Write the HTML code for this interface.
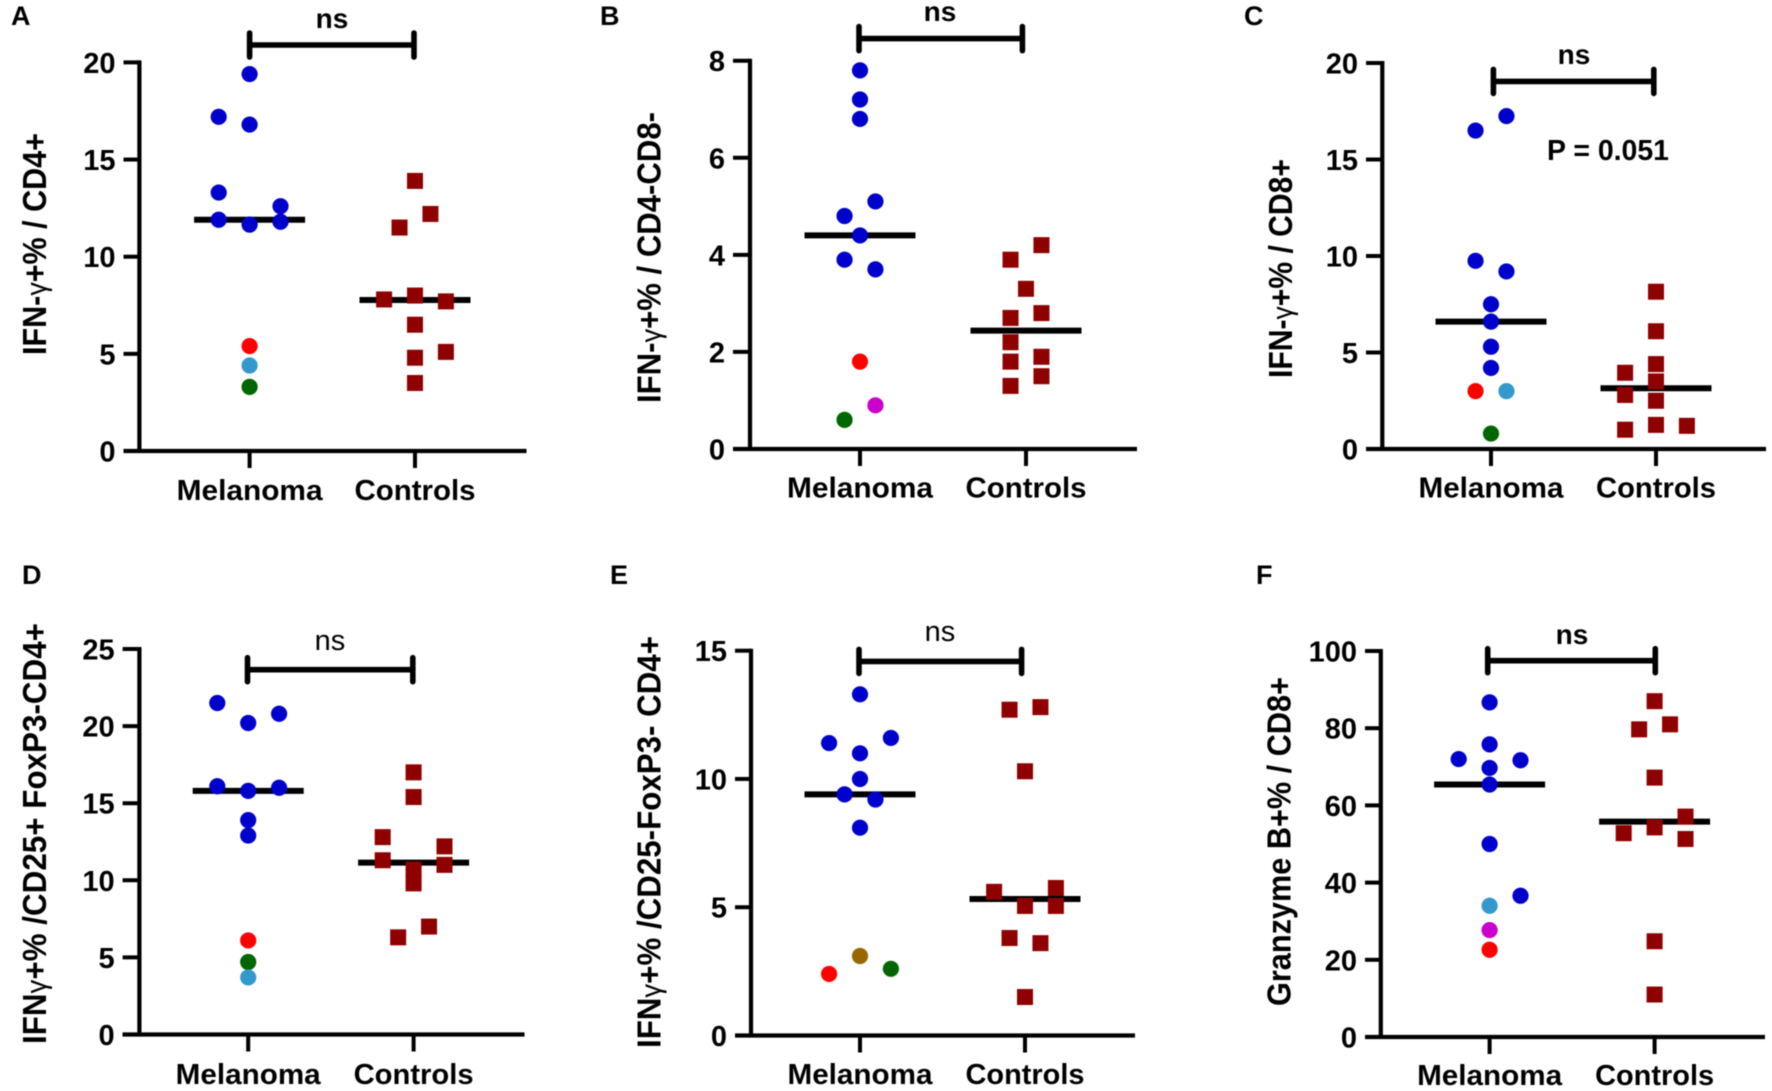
<!DOCTYPE html>
<html>
<head>
<meta charset="utf-8">
<style>
html,body{margin:0;padding:0;background:#fff}
svg{display:block;filter:blur(0.4px)}
text{font-family:"Liberation Sans",Arial,sans-serif;fill:#000}
.b{font-weight:700}
.t{font-weight:700;font-size:33px}
.g{font-weight:400;font-size:29px}
.r{font-weight:400}
</style>
</head>
<body>
<svg id="figure" width="1772" height="1091" viewBox="0 0 1772 1091" xmlns="http://www.w3.org/2000/svg">
<rect width="1772" height="1091" fill="#fff"/>

<g id="panel-a">
<text class="b" x="11" y="25" font-size="27">A</text>
<text class="t" transform="translate(46,355) rotate(-90)" textLength="222" lengthAdjust="spacingAndGlyphs">IFN-<tspan class="g">γ</tspan>+% / CD4+</text>
<text class="b" x="332" y="28" font-size="28" text-anchor="middle">ns</text>
</g>

<g id="panel-b">
<text class="b" x="600" y="25" font-size="27">B</text>
<text class="t" transform="translate(660.6,403) rotate(-90)" textLength="291" lengthAdjust="spacingAndGlyphs">IFN-<tspan class="g">γ</tspan>+% / CD4-CD8-</text>
<text class="b" x="940" y="21" font-size="28" text-anchor="middle">ns</text>
</g>

<g id="panel-c">
<text class="b" x="1244" y="25" font-size="27">C</text>
<text class="t" transform="translate(1292,378) rotate(-90)" textLength="219" lengthAdjust="spacingAndGlyphs">IFN-<tspan class="g">γ</tspan>+% / CD8+</text>
<text class="b" x="1574" y="64" font-size="28" text-anchor="middle">ns</text>
<text class="b" x="1547" y="160" font-size="28.5" textLength="122" lengthAdjust="spacingAndGlyphs">P = 0.051</text>
</g>

<g id="panel-d">
<text class="b" x="22" y="584" font-size="27">D</text>
<text class="t" transform="translate(46,1044) rotate(-90)" textLength="421" lengthAdjust="spacingAndGlyphs">IFN<tspan class="g">γ</tspan>+% /CD25+ FoxP3-CD4+</text>
<text class="r" x="330" y="650" font-size="29" text-anchor="middle">ns</text>
</g>

<g id="panel-e">
<text class="b" x="610" y="584" font-size="27">E</text>
<text class="t" transform="translate(660.6,1048) rotate(-90)" textLength="412" lengthAdjust="spacingAndGlyphs">IFN<tspan class="g">γ</tspan>+% /CD25-FoxP3- CD4+</text>
<text class="r" x="940" y="641" font-size="29" text-anchor="middle">ns</text>
</g>

<g id="panel-f">
<text class="b" x="1256" y="584" font-size="27">F</text>
<text class="t" transform="translate(1290.6,1006) rotate(-90)" textLength="329" lengthAdjust="spacingAndGlyphs">Granzyme B+% / CD8+</text>
<text class="b" x="1572" y="644" font-size="28" text-anchor="middle">ns</text>
</g>
</svg>

<script>
// Categories shared by all panels
const categories = ['Melanoma', 'Controls'];

// Y-axis tick labels
const aTicks = [0, 5, 10, 15, 20];
const bTicks = [0, 2, 4, 6, 8];
const cTicks = [0, 5, 10, 15, 20];
const dTicks = [0, 5, 10, 15, 20, 25];
const eTicks = [0, 5, 10, 15];
const fTicks = [0, 20, 40, 60, 80, 100];

// Panel A values
const aMelanoma = [19.4, 17.2, 16.8, 13.3, 12.6, 11.9, 11.65, 11.8, 5.4, 4.4, 3.3];
const aMelanomaSwarm = [0, -2, 0, -2, 2, -2, 0, 2, 0, 0, 0];
const aMelanomaPatient = ['', '', '', '', '', '', '', '', 'P1', 'P2', 'P3'];
const aControls = [13.9, 12.2, 11.5, 7.8, 8.0, 7.7, 6.5, 5.1, 4.8, 3.5];
const aControlsSwarm = [0, 1, -1, -2, 0, 2, 0, 2, 0, 0];
const aMedians = [11.9, 7.77];

// Panel B values
const bMelanoma = [7.8, 7.2, 6.8, 5.1, 4.8, 4.4, 3.9, 3.7, 1.8, 0.9, 0.6];
const bMelanomaSwarm = [0, 0, 0, 1, -1, 0, -1, 1, 0, 1, -1];
const bMelanomaPatient = ['', '', '', '', '', '', '', '', 'P1', 'P4', 'P3'];
const bControls = [4.2, 3.9, 3.3, 2.8, 2.7, 2.2, 1.9, 1.8, 1.5, 1.3];
const bControlsSwarm = [1, -1, 0, 1, -1, -1, 1, -1, 1, -1];
const bMedians = [4.4, 2.44];

// Panel C values
const cMelanoma = [17.25, 16.5, 9.75, 9.2, 7.5, 6.6, 5.3, 4.2, 3.0, 3.0, 0.8];
const cMelanomaSwarm = [1, -1, -1, 1, 0, 0, 0, 0, -1, 1, 0];
const cMelanomaPatient = ['', '', '', '', '', '', '', '', 'P1', 'P2', 'P3'];
const cControls = [8.15, 6.1, 4.4, 3.95, 3.5, 2.8, 2.5, 1.25, 1.2, 1.0];
const cControlsSwarm = [0, 0, 0, -2, 0, -2, 0, 0, 2, -2];
const cMedians = [6.6, 3.15];

// Panel D values
const dMelanoma = [21.5, 20.8, 20.2, 16.1, 16.0, 15.8, 13.9, 12.9, 6.1, 4.7, 3.7];
const dMelanomaSwarm = [-2, 2, 0, -2, 2, 0, 0, 0, 0, 0, 0];
const dMelanomaPatient = ['', '', '', '', '', '', '', '', 'P1', 'P3', 'P2'];
const dControls = [17.0, 15.4, 12.8, 12.2, 11.3, 11.0, 10.7, 9.8, 7.0, 6.3];
const dControlsSwarm = [0, 0, -2, 2, -2, 2, 0, 0, 1, -1];
const dMedians = [15.8, 11.15];

// Panel E values
const eMelanoma = [13.3, 11.6, 11.4, 11.0, 10.0, 9.4, 9.2, 8.1, 3.1, 2.6, 2.4];
const eMelanomaSwarm = [0, 2, -2, 0, 0, -1, 1, 0, 0, 2, -2];
const eMelanomaPatient = ['', '', '', '', '', '', '', '', 'P5', 'P3', 'P1'];
const eControls = [12.8, 12.7, 10.3, 5.75, 5.6, 5.05, 5.05, 3.8, 3.6, 1.5];
const eControlsSwarm = [1, -1, 0, 2, -2, 0, 2, -1, 1, 0];
const eMedians = [9.4, 5.32];

// Panel F values
const fMelanoma = [86.7, 75.8, 72.0, 71.7, 69.7, 65.4, 50.0, 36.6, 34.0, 27.7, 22.6];
const fMelanomaSwarm = [0, 0, -2, 2, 0, 0, 0, 2, 0, 0, 0];
const fMelanomaPatient = ['', '', '', '', '', '', '', '', 'P2', 'P4', 'P1'];
const fControls = [87.0, 81.0, 79.7, 67.2, 57.1, 54.3, 52.8, 51.3, 24.8, 11.0];
const fControlsSwarm = [0, 1, -1, 0, 2, 0, -2, 2, 0, 0];
const fMedians = [65.4, 55.8];

// Panel frames (geometry only)
const frames = [
  {id:'a', ticks:aTicks, mel:aMelanoma, melS:aMelanomaSwarm, melP:aMelanomaPatient, con:aControls, conS:aControlsSwarm, med:aMedians,
   ax:139.4, y0:451, yTop:62.4, left:123.5, right:526.5, cx:[249.6,415], br:[249.6,414,45], labelY:500, melW:146, conW:121},
  {id:'b', ticks:bTicks, mel:bMelanoma, melS:bMelanomaSwarm, melP:bMelanomaPatient, con:bControls, conS:bControlsSwarm, med:bMedians,
   ax:750, y0:449, yTop:60.7, left:733, right:1137, cx:[860,1026], br:[859,1022.4,38.6], labelY:497.6, melW:146, conW:121},
  {id:'c', ticks:cTicks, mel:cMelanoma, melS:cMelanomaSwarm, melP:cMelanomaPatient, con:cControls, conS:cControlsSwarm, med:cMedians,
   ax:1382.3, y0:449, yTop:63, left:1366, right:1766, cx:[1491,1656], br:[1493.4,1653.8,81.4], labelY:497.6, melW:145, conW:120},
  {id:'d', ticks:dTicks, mel:dMelanoma, melS:dMelanomaSwarm, melP:dMelanomaPatient, con:dControls, conS:dControlsSwarm, med:dMedians,
   ax:139.4, y0:1034.5, yTop:649, left:122.6, right:524.5, cx:[248.2,413.6], br:[247.5,412.8,669.7], labelY:1084, melW:145, conW:120},
  {id:'e', ticks:eTicks, mel:eMelanoma, melS:eMelanomaSwarm, melP:eMelanomaPatient, con:eControls, conS:eControlsSwarm, med:eMedians,
   ax:751, y0:1035.5, yTop:650.7, left:735, right:1135, cx:[860,1025], br:[859,1021.6,661.4], labelY:1084, melW:145, conW:119},
  {id:'f', ticks:fTicks, mel:fMelanoma, melS:fMelanomaSwarm, melP:fMelanomaPatient, con:fControls, conS:fControlsSwarm, med:fMedians,
   ax:1380.8, y0:1037, yTop:651, left:1365, right:1765, cx:[1489.6,1654.6], br:[1487.7,1655.3,660.7], labelY:1085, melW:145, conW:119}
];

const patientColor = {'':'#0000cc', P1:'#ff0000', P2:'#3399cc', P3:'#006600', P4:'#cc00cc', P5:'#996600'};
const controlColor = '#8f0000';
const SVGNS = 'http://www.w3.org/2000/svg';
const swarmStep = 15.45;
const medianHalf = 55.5;
const markerR = 8.1;
const squareSide = 16;

function make(tag, attrs, parent) {
  const el = document.createElementNS(SVGNS, tag);
  for (const k in attrs) el.setAttribute(k, attrs[k]);
  parent.appendChild(el);
  return el;
}

function drawPanel(f) {
  const g = document.getElementById('panel-' + f.id);
  const top = f.ticks[f.ticks.length - 1];
  const yScale = v => f.y0 - (v / top) * (f.y0 - f.yTop);
  const xScale = (cat, swarm) => f.cx[cat] + swarm * swarmStep;
  let el;

  // axes
  el = make('line', {x1:f.ax, x2:f.ax, y1:f.yTop - 2, y2:f.y0 + 2, stroke:'#000', 'stroke-width':4.2}, g);
  
  
  el = make('line', {x1:f.left, x2:f.right, y1:f.y0, y2:f.y0, stroke:'#000', 'stroke-width':4.2}, g);
  
  

  // y ticks
  f.ticks.forEach(t => {
    const y = yScale(t);
    let m = make('line', {x1:f.left, x2:f.ax, y1:y, y2:y, stroke:'#000', 'stroke-width':4}, g);
    
    
    let l = make('text', {x:f.left - 8, y:y + 10.5, 'font-size':29, 'font-weight':700, 'text-anchor':'end'}, g);
    
    
    l.textContent = t;
  });

  // x ticks and labels
  categories.forEach((c, i) => {
    let m = make('line', {x1:f.cx[i], x2:f.cx[i], y1:f.y0, y2:f.y0 + 17, stroke:'#000', 'stroke-width':4}, g);
    
    
    let l = make('text', {x:f.cx[i], y:f.labelY, 'font-size':29, 'font-weight':700, 'text-anchor':'middle', textLength:i === 0 ? f.melW : f.conW, lengthAdjust:'spacingAndGlyphs'}, g);
    
    
    l.textContent = c;
  });

  // significance bracket
  const [bx1, bx2, by] = f.br;
  el = make('line', {x1:bx1, x2:bx2, y1:by, y2:by, stroke:'#000', 'stroke-width':5.6}, g);
  
  
  [bx1, bx2].forEach(bx => {
    let cap = make('line', {x1:bx, x2:bx, y1:by - 12, y2:by + 12, stroke:'#000', 'stroke-width':5.6, 'stroke-linecap':'round'}, g);
    
    
  });

  // median lines
  f.med.forEach((v, i) => {
    let m = make('line', {x1:f.cx[i] - medianHalf, x2:f.cx[i] + medianHalf, y1:yScale(v), y2:yScale(v), stroke:'#000', 'stroke-width':6}, g);
    
    
  });

  // melanoma points
  f.mel.forEach((v, i) => {
    let p = make('circle', {cx:xScale(0, f.melS[i]), cy:yScale(v), r:markerR, fill:patientColor[f.melP[i]]}, g);
    
    
  });

  // control points
  f.con.forEach((v, i) => {
    let p = make('rect', {x:xScale(1, f.conS[i]) - squareSide / 2, y:yScale(v) - squareSide / 2, width:squareSide, height:squareSide, fill:controlColor}, g);
    
    
  });
}

frames.forEach(drawPanel);
</script>
</body>
</html>
